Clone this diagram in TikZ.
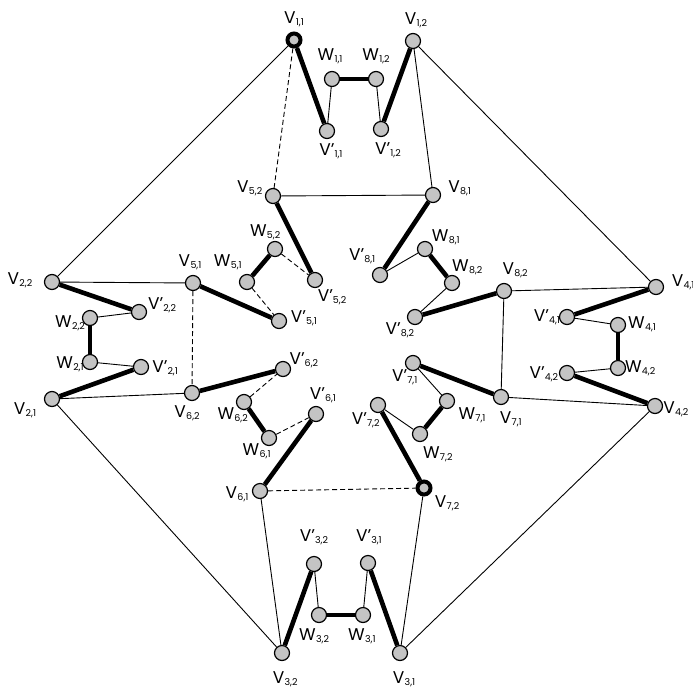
\documentclass[tikz,border=0pt]{standalone}
\usepackage{fontspec}
\setmainfont{Poppins}
\usetikzlibrary{backgrounds}
\definecolor{dotgray}{HTML}{C4C4C4}
\newcommand{\idx}[1]{\raisebox{-2pt}{\fontsize{9.5}{9.5}\selectfont#1}}
\newcommand{\vx}[1]{V\kern0.3pt\idx{#1}}
\newcommand{\vq}[1]{V’\idx{#1}}
\newcommand{\wx}[1]{W\kern0.3pt\idx{#1}}

\begin{document}
\begin{tikzpicture}[
  x=1pt, y=-1pt,
  vertex/.style={
    circle, draw=black, line width=1.2pt, fill=dotgray,
    minimum size=15pt, inner sep=0pt
  },
  hub/.style={vertex, line width=4pt, minimum size=13pt},
  lab/.style={font=\fontsize{17}{17}\selectfont, inner sep=0pt,
    anchor=center, label distance=#1},
  thinedge/.style={line width=0.9pt},
  boldedge/.style={line width=4.6pt},
  dashedge/.style={line width=0.9pt, dashed, dash pattern=on 5pt off 3pt}
]
\useasboundingbox (0,0) rectangle (693,691);

% ---- Top ----
\node[hub, label={[lab=12pt]90:\vx{1,1}}] (v11) at (294,40) {};
\node[vertex, label={[lab=13pt]82:\vx{1,2}}] (v12) at (413,41) {};
\node[vertex, label={[lab=14.5pt]95:\wx{1,1}}] (w11) at (332,79) {};
\node[vertex, label={[lab=14.5pt]90:\wx{1,2}}] (w12) at (376,79) {};
\node[vertex, label={[lab=12.5pt]-79:\vq{1,1}}] (p11) at (327,131) {};
\node[vertex, label={[lab=14.5pt]-72:\vq{1,2}}] (p12) at (381,129) {};

% ---- Inner top ----
\node[vertex, label={[lab=16.5pt]161:\vx{5,2}}] (v52) at (273,196) {};
\node[vertex, label={[lab=19.5pt]15:\vx{8,1}}] (v81) at (433,195) {};
\node[vertex, label={[lab=11.5pt]120:\wx{5,2}}] (w52) at (275,249) {};
\node[vertex, label={[lab=19.5pt]134:\wx{5,1}}] (w51) at (247,282) {};
\node[vertex, label={[lab=16pt]-45:\vq{5,2}}] (p52) at (315,280) {};
\node[vertex, label={[lab=17pt]7:\vq{5,1}}] (p51) at (279,321) {};
\node[vertex, label={[lab=18pt]133:\vq{8,1}}] (p81) at (380,275) {};
\node[vertex, label={[lab=16pt]30:\wx{8,1}}] (w81) at (425,249) {};
\node[vertex, label={[lab=13.5pt]45:\wx{8,2}}] (w82) at (452,283) {};
\node[vertex, label={[lab=12pt]221:\vq{8,2}}] (p82) at (415,317) {};

% ---- Left ----
\node[vertex, label={[lab=24pt]176:\vx{2,2}}] (v22) at (52,282) {};
\node[vertex, label={[lab=13pt]98:\vx{5,1}}] (v51) at (193,283) {};
\node[vertex, label={[lab=16pt]17:\vq{2,2}}] (p22) at (139,312) {};
\node[vertex, label={[lab=12.5pt]194:\wx{2,2}}] (w22) at (90,318) {};
\node[vertex, label={[lab=12pt]186:\wx{2,1}}] (w21) at (90,362) {};
\node[vertex, label={[lab=16pt]-2:\vq{2,1}}] (p21) at (141,367) {};
\node[vertex, label={[lab=21pt]202:\vx{2,1}}] (v21) at (52,399) {};
\node[vertex, label={[lab=12.5pt]256:\vx{6,2}}] (v62) at (192,393) {};

% ---- Right ----
\node[vertex, label={[lab=15.5pt]62:\vx{8,2}}] (v82) at (504,291) {};
\node[vertex, label={[lab=19.5pt]10:\vx{4,1}}] (v41) at (656,287) {};
\node[vertex, label={[lab=12pt]180:\vq{4,1}}] (p41) at (567,317) {};
\node[vertex, label={[lab=16pt]2:\wx{4,1}}] (w41) at (618,325) {};
\node[vertex, label={[lab=14pt]0:\wx{4,2}}] (w42) at (618,368) {};
\node[vertex, label={[lab=15pt]182:\vq{4,2}}] (p42) at (567,373) {};
\node[vertex, label={[lab=16pt]-66:\vx{7,1}}] (v71) at (501,397) {};
\node[vertex, label={[lab=13pt]-8:\vx{4,2}}] (v42) at (655,406) {};

% ---- Inner bottom ----
\node[vertex, label={[lab=14.5pt]23:\vq{6,2}}] (p62) at (283,369) {};
\node[vertex, label={[lab=9.5pt]230:\wx{6,2}}] (w62) at (244,402) {};
\node[vertex, label={[lab=10pt]227:\wx{6,1}}] (w61) at (269,438) {};
\node[vertex, label={[lab=12pt]70:\vq{6,1}}] (p61) at (316,414) {};
\node[vertex, label={[lab=15pt]187:\vx{6,1}}] (v61) at (260,491) {};
\node[vertex, label={[lab=8.5pt]240:\vq{7,1}}] (p71) at (413,363) {};
\node[vertex, label={[lab=20.5pt]-29:\wx{7,1}}] (w71) at (447,401) {};
\node[vertex, label={[lab=11.5pt]231:\vq{7,2}}] (p72) at (378,405) {};
\node[vertex, label={[lab=18.5pt]-48:\wx{7,2}}] (w72) at (420,434) {};
\node[hub, label={[lab=19pt]-33:\vx{7,2}}] (v72) at (424,488) {};

% ---- Bottom ----
\node[vertex, label={[lab=19pt]90:\vq{3,2}}] (p32) at (314,564) {};
\node[vertex, label={[lab=18pt]88:\vq{3,1}}] (p31) at (368,563) {};
\node[vertex, label={[lab=13.5pt]257:\wx{3,2}}] (w32) at (319,615) {};
\node[vertex, label={[lab=13pt]267:\wx{3,1}}] (w31) at (363,615) {};
\node[vertex, label={[lab=18pt]-83:\vx{3,2}}] (v32) at (282,653) {};
\node[vertex, label={[lab=18pt]-81:\vx{3,1}}] (v31) at (400,653) {};

\begin{scope}[on background layer]
  % outer square
  \draw[thinedge] (v11) -- (v22);
  \draw[thinedge] (v12) -- (v41);
  \draw[thinedge] (v42) -- (v31);
  \draw[thinedge] (v32) -- (v21);
  % thin links
  \draw[thinedge] (v12) -- (v81);
  \draw[thinedge] (v52) -- (v81);
  \draw[thinedge] (v22) -- (v51);
  \draw[thinedge] (v21) -- (v62);
  \draw[thinedge] (v82) -- (v71);
  \draw[thinedge] (v82) -- (v41);
  \draw[thinedge] (v71) -- (v42);
  \draw[thinedge] (v61) -- (v32);
  \draw[thinedge] (v72) -- (v31);
  % dashed links
  \draw[dashedge] (v11) -- (v52);
  \draw[dashedge] (v51) -- (v62);
  \draw[dashedge] (v61) -- (v72);
  \draw[dashedge] (w52) -- (p52);
  \draw[dashedge] (w51) -- (p51);
  \draw[dashedge] (w62) -- (p62);
  \draw[dashedge] (w61) -- (p61);
  % W to V' links
  \foreach \a/\b in {w11/p11, w12/p12, w22/p22, w21/p21, w41/p41, w42/p42,
                     w81/p81, w82/p82, w71/p71, w72/p72, w32/p32, w31/p31}
    \draw[thinedge] (\a) -- (\b);
  % bold links
  \foreach \a/\b in {v11/p11, v12/p12, w11/w12, v52/p52, w51/w52, v51/p51,
                     v81/p81, w81/w82, v82/p82, v22/p22, w22/w21, v21/p21,
                     v41/p41, w41/w42, v42/p42, v62/p62, w62/w61, v61/p61,
                     v71/p71, w71/w72, v72/p72, v32/p32, w32/w31, v31/p31}
    \draw[boldedge] (\a) -- (\b);
\end{scope}

\end{tikzpicture}
\end{document}
